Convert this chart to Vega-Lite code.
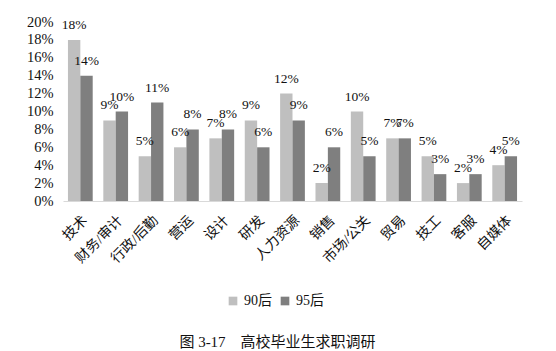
{
  "$schema": "https://vega.github.io/schema/vega-lite/v6.json",
  "width": 459,
  "height": 179,
  "autosize": "none",
  "padding": {"left": 63, "top": 22, "right": 34, "bottom": 150},
  "background": "white",
  "title": {
    "text": "图 3-17　高校毕业生求职调研",
    "orient": "bottom",
    "anchor": "middle",
    "dx": -15,
    "offset": 27,
    "font": "Liberation Serif, Noto Sans CJK SC",
    "fontSize": 15,
    "fontWeight": "normal",
    "color": "#111"
  },
  "config": {
    "view": {"stroke": null},
    "axis": {"grid": false, "ticks": false}
  },
  "data": {
    "values": [
      {"cat": "技术", "group": "90后", "v": 0.18},
      {"cat": "技术", "group": "95后", "v": 0.14},
      {"cat": "财务/审计", "group": "90后", "v": 0.09},
      {"cat": "财务/审计", "group": "95后", "v": 0.10},
      {"cat": "行政/后勤", "group": "90后", "v": 0.05},
      {"cat": "行政/后勤", "group": "95后", "v": 0.11},
      {"cat": "营运", "group": "90后", "v": 0.06},
      {"cat": "营运", "group": "95后", "v": 0.08},
      {"cat": "设计", "group": "90后", "v": 0.07},
      {"cat": "设计", "group": "95后", "v": 0.08},
      {"cat": "研发", "group": "90后", "v": 0.09},
      {"cat": "研发", "group": "95后", "v": 0.06},
      {"cat": "人力资源", "group": "90后", "v": 0.12},
      {"cat": "人力资源", "group": "95后", "v": 0.09},
      {"cat": "销售", "group": "90后", "v": 0.02},
      {"cat": "销售", "group": "95后", "v": 0.06},
      {"cat": "市场/公关", "group": "90后", "v": 0.10},
      {"cat": "市场/公关", "group": "95后", "v": 0.05},
      {"cat": "贸易", "group": "90后", "v": 0.07},
      {"cat": "贸易", "group": "95后", "v": 0.07},
      {"cat": "技工", "group": "90后", "v": 0.05},
      {"cat": "技工", "group": "95后", "v": 0.03},
      {"cat": "客服", "group": "90后", "v": 0.02},
      {"cat": "客服", "group": "95后", "v": 0.03},
      {"cat": "自媒体", "group": "90后", "v": 0.04},
      {"cat": "自媒体", "group": "95后", "v": 0.05}
    ]
  },
  "encoding": {
    "x": {
      "field": "cat",
      "type": "nominal",
      "sort": null,
      "title": null,
      "scale": {"paddingInner": 0.3, "paddingOuter": 0.14},
      "axis": {
        "labelAngle": -45,
        "labelFont": "Liberation Serif, Noto Sans CJK SC",
        "labelFontSize": 14,
        "labelColor": "#111",
        "labelPadding": 12,
        "domainColor": "#d9d9d9",
        "domainWidth": 1
      }
    },
    "xOffset": {"field": "group", "type": "nominal", "scale": {"paddingInner": 0, "paddingOuter": 0}},
    "y": {
      "field": "v",
      "type": "quantitative",
      "title": null,
      "scale": {"domain": [0, 0.2], "nice": false},
      "axis": {
        "values": [0, 0.02, 0.04, 0.06, 0.08, 0.1, 0.12, 0.14, 0.16, 0.18, 0.2],
        "format": ".0%",
        "domain": false,
        "labelFont": "Liberation Serif",
        "labelFontSize": 14.5,
        "labelColor": "#111",
        "labelPadding": 10
      }
    }
  },
  "layer": [
    {
      "mark": {"type": "bar"},
      "encoding": {
        "color": {
          "field": "group",
          "type": "nominal",
          "scale": {"domain": ["90后", "95后"], "range": ["#bfbfbf", "#7f7f7f"]},
          "legend": {
            "title": null,
            "orient": "none",
            "direction": "horizontal",
            "legendX": 163,
            "legendY": 272,
            "symbolType": "square",
            "symbolSize": 75,
            "symbolStrokeWidth": 0,
            "labelFont": "Liberation Serif, Noto Sans CJK SC",
            "labelFontSize": 14,
            "labelColor": "#111",
            "columnPadding": 6,
            "labelOffset": 4
          }
        }
      }
    },
    {
      "mark": {
        "type": "text",
        "baseline": "alphabetic",
        "dy": -11,
        "font": "Liberation Serif",
        "fontSize": 13.5,
        "color": "#111"
      },
      "encoding": {
        "text": {"field": "v", "type": "quantitative", "format": ".0%"}
      }
    }
  ]
}
